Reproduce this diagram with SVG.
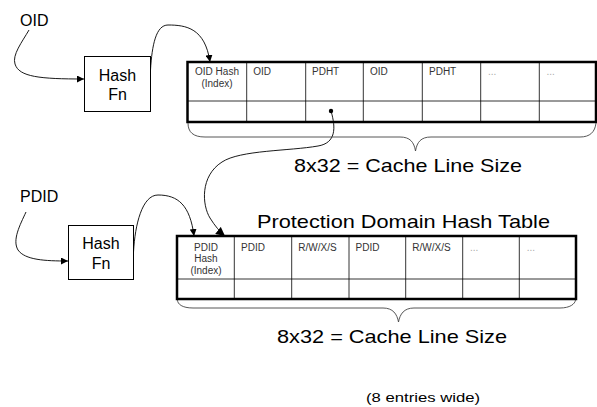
<svg xmlns="http://www.w3.org/2000/svg" width="597" height="407" viewBox="0 0 597 407">
<style>
text{font-family:"Liberation Sans",Arial,sans-serif;}
.lbl{font-size:16px;fill:#000;}
.big{font-size:18.5px;fill:#000;}
.cell{font-size:10px;fill:#333;}
.dots{font-size:10px;fill:#aaa;}
.box{fill:#fff;stroke:#000;stroke-width:1;}
.outer{fill:none;stroke:#000;stroke-width:2.5;}
.grid{stroke:#000;stroke-width:0.8;fill:none;}
.conn{fill:none;stroke:#000;stroke-width:0.9;}
.brace{fill:none;stroke:#444;stroke-width:0.9;}
</style>
<defs>
<marker id="arr" viewBox="0 0 10 10" refX="10" refY="5" markerWidth="7" markerHeight="7" orient="auto" markerUnits="userSpaceOnUse">
<path d="M0,0 L10,5 L0,10 Z" fill="#000"/>
</marker>
<marker id="arrL" viewBox="0 0 10 10" refX="10" refY="5" markerWidth="9" markerHeight="9" orient="auto" markerUnits="userSpaceOnUse">
<path d="M0,0 L10,5 L0,10 Z" fill="#000"/>
</marker>
</defs>

<g id="oid-label"><text class="lbl" x="20" y="26">OID</text></g>
<g id="pdid-label"><text class="lbl" x="20" y="202">PDID</text></g>

<g id="hash-fn-1">
<rect class="box" x="84.5" y="56.5" width="66" height="55"/>
<text class="lbl" x="117.5" y="80.5" text-anchor="middle">Hash</text>
<text class="lbl" x="117.5" y="100" text-anchor="middle">Fn</text>
</g>

<g id="hash-fn-2">
<rect class="box" x="68.5" y="225.5" width="65" height="54"/>
<text class="lbl" x="101" y="248.5" text-anchor="middle">Hash</text>
<text class="lbl" x="101" y="268.5" text-anchor="middle">Fn</text>
</g>

<g id="oid-table">
<line class="grid" x1="187" y1="101" x2="597" y2="101"/>
<line class="grid" x1="246.7" y1="62" x2="246.7" y2="122"/>
<line class="grid" x1="305.7" y1="62" x2="305.7" y2="122"/>
<line class="grid" x1="363.3" y1="62" x2="363.3" y2="122"/>
<line class="grid" x1="422.3" y1="62" x2="422.3" y2="122"/>
<line class="grid" x1="480.7" y1="62" x2="480.7" y2="122"/>
<line class="grid" x1="539.3" y1="62" x2="539.3" y2="122"/>
<rect class="outer" x="187.5" y="62" width="408.5" height="60"/>
<text class="cell" x="217" y="75" text-anchor="middle">OID Hash</text>
<text class="cell" x="217" y="86.5" text-anchor="middle">(Index)</text>
<text class="cell" x="253.3" y="75">OID</text>
<text class="cell" x="312" y="75">PDHT</text>
<text class="cell" x="370" y="75">OID</text>
<text class="cell" x="429" y="75">PDHT</text>
<text class="dots" x="488" y="75">...</text>
<text class="dots" x="546.5" y="75">...</text>
<circle cx="331" cy="111" r="2.2" fill="#000"/>
</g>

<g id="pdht-table">
<line class="grid" x1="177" y1="279" x2="576" y2="279"/>
<line class="grid" x1="234.3" y1="236" x2="234.3" y2="299"/>
<line class="grid" x1="291.7" y1="236" x2="291.7" y2="299"/>
<line class="grid" x1="349" y1="236" x2="349" y2="299"/>
<line class="grid" x1="405.7" y1="236" x2="405.7" y2="299"/>
<line class="grid" x1="462.7" y1="236" x2="462.7" y2="299"/>
<line class="grid" x1="519.3" y1="236" x2="519.3" y2="299"/>
<rect class="outer" x="177" y="236" width="399" height="63"/>
<text class="cell" x="206" y="250.5" text-anchor="middle">PDID</text>
<text class="cell" x="206" y="262" text-anchor="middle">Hash</text>
<text class="cell" x="206" y="273.5" text-anchor="middle">(Index)</text>
<text class="cell" x="241" y="250.5">PDID</text>
<text class="cell" x="298.3" y="250.5">R/W/X/S</text>
<text class="cell" x="355.5" y="250.5">PDID</text>
<text class="cell" x="412.3" y="250.5">R/W/X/S</text>
<text class="dots" x="470" y="250.5">...</text>
<text class="dots" x="526.7" y="250.5">...</text>
</g>

<g id="title"><text class="big" x="257" y="227.5" textLength="293" lengthAdjust="spacingAndGlyphs">Protection Domain Hash Table</text></g>
<g id="size-label-1"><text class="big" x="294" y="172" textLength="228" lengthAdjust="spacingAndGlyphs">8x32 = Cache Line Size</text></g>
<g id="size-label-2"><text class="big" x="277" y="343" textLength="230" lengthAdjust="spacingAndGlyphs">8x32 = Cache Line Size</text></g>
<g id="entries-label"><text x="366" y="402" style="font-size:13px" textLength="114" lengthAdjust="spacingAndGlyphs">(8 entries wide)</text></g>

<g id="connectors">
<path class="conn" d="M29,30 C22,42 12,55 15,64 C19,77 40,79 84,79" marker-end="url(#arr)"/>
<path class="conn" d="M150.5,70 C152,45 156,25 168,25 C186,25 205,28 210,62" marker-end="url(#arr)"/>
<path class="conn" d="M26,212 C20,225 12,240 18,250 C25,260 45,261 68,261" marker-end="url(#arr)"/>
<path class="conn" d="M133.5,252 C135,225 142,195 158,195 C178,195 190,205 194,236" marker-end="url(#arr)"/>
<path class="conn" d="M331,111 C336,128 336,143 318,146 C290,151 240,150 222,162 C200,176 202,205 210,218 C215,226 220,232 225,236" marker-end="url(#arrL)"/>
<path class="brace" d="M188,123 C188,132 193,137 205,137 L400,137 C410,137 414,142 415.5,151 C417,142 421,137 431,137 L580,137 C590,137 595,132 596,123"/>
<path class="brace" d="M177.5,300 C177.5,304 182,308 193,308 L383,308 C393,308 397,314 398.5,322 C400,314 404,308 414,308 L560,308 C570,308 575,304 575.5,300"/>
</g>
</svg>
